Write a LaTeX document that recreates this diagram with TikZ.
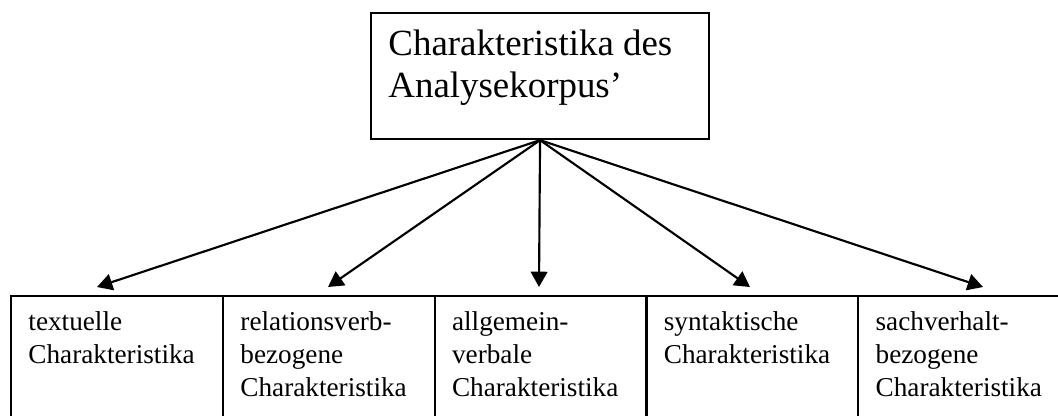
\documentclass[tikz,border=0pt]{standalone}
\usepackage{fontspec}
\setmainfont{Liberation Serif}
\usetikzlibrary{arrows.meta}
\begin{document}
\begin{tikzpicture}[x=0.4444pt,y=-0.4444pt,
  frame/.style={draw, line width=0.95pt, inner sep=0pt, anchor=north west},
  cell/.style={frame, minimum width=94.13pt, minimum height=66pt},
  rootfont/.style={anchor=base west, inner sep=0pt, font=\fontsize{16.4pt}{19.1pt}\selectfont},
  cellfont/.style={anchor=base west, inner sep=0pt, font=\fontsize{12.1pt}{14.67pt}\selectfont},
  link/.style={line width=0.95pt, -{Triangle[length=6.8pt,width=7.4pt]}}]
\clip (0,0) rectangle (1058,416);

% top box
\node[frame, minimum width=150.2pt, minimum height=56pt] (root) at (370,12) {};
\node[rootfont] (rootlabel) at (388,55)
  {\parbox[t]{140pt}{\raggedright Charakteristika des\\Analysekorpus’}};

% row of category boxes (the right and lower edges run past the page)
\node[cell] (c1) at (10,295) {};
\node[cell] (c2) at (221.8,295) {};
\node[cell] (c3) at (433.6,295) {};
\node[cell] (c4) at (645.4,295) {};
\node[cell] (c5) at (857.2,295) {};

\node[cellfont] (l1) at (28,330)
  {\parbox[t]{85pt}{\raggedright textuelle\\Charakteristika}};
\node[cellfont] (l2) at (240,330)
  {\parbox[t]{85pt}{\raggedright relationsverb-\\bezogene\\Charakteristika}};
\node[cellfont] (l3) at (451.6,330)
  {\parbox[t]{85pt}{\raggedright allgemein-\\verbale\\Charakteristika}};
\node[cellfont] (l4) at (663.4,330)
  {\parbox[t]{85pt}{\raggedright syntaktische\\Charakteristika}};
\node[cellfont] (l5) at (875.2,330)
  {\parbox[t]{85pt}{\raggedright sachverhalt-\\bezogene\\Charakteristika}};

% arrow targets just above the boxes
\coordinate (t1) at (97,287);
\coordinate (t2) at (328,287);
\coordinate (t3) at (539,287);
\coordinate (t4) at (750,287);
\coordinate (t5) at (983,287);

\foreach \k in {1,...,5}
  \draw[link] (root.south) -- (t\k);
\end{tikzpicture}
\end{document}
